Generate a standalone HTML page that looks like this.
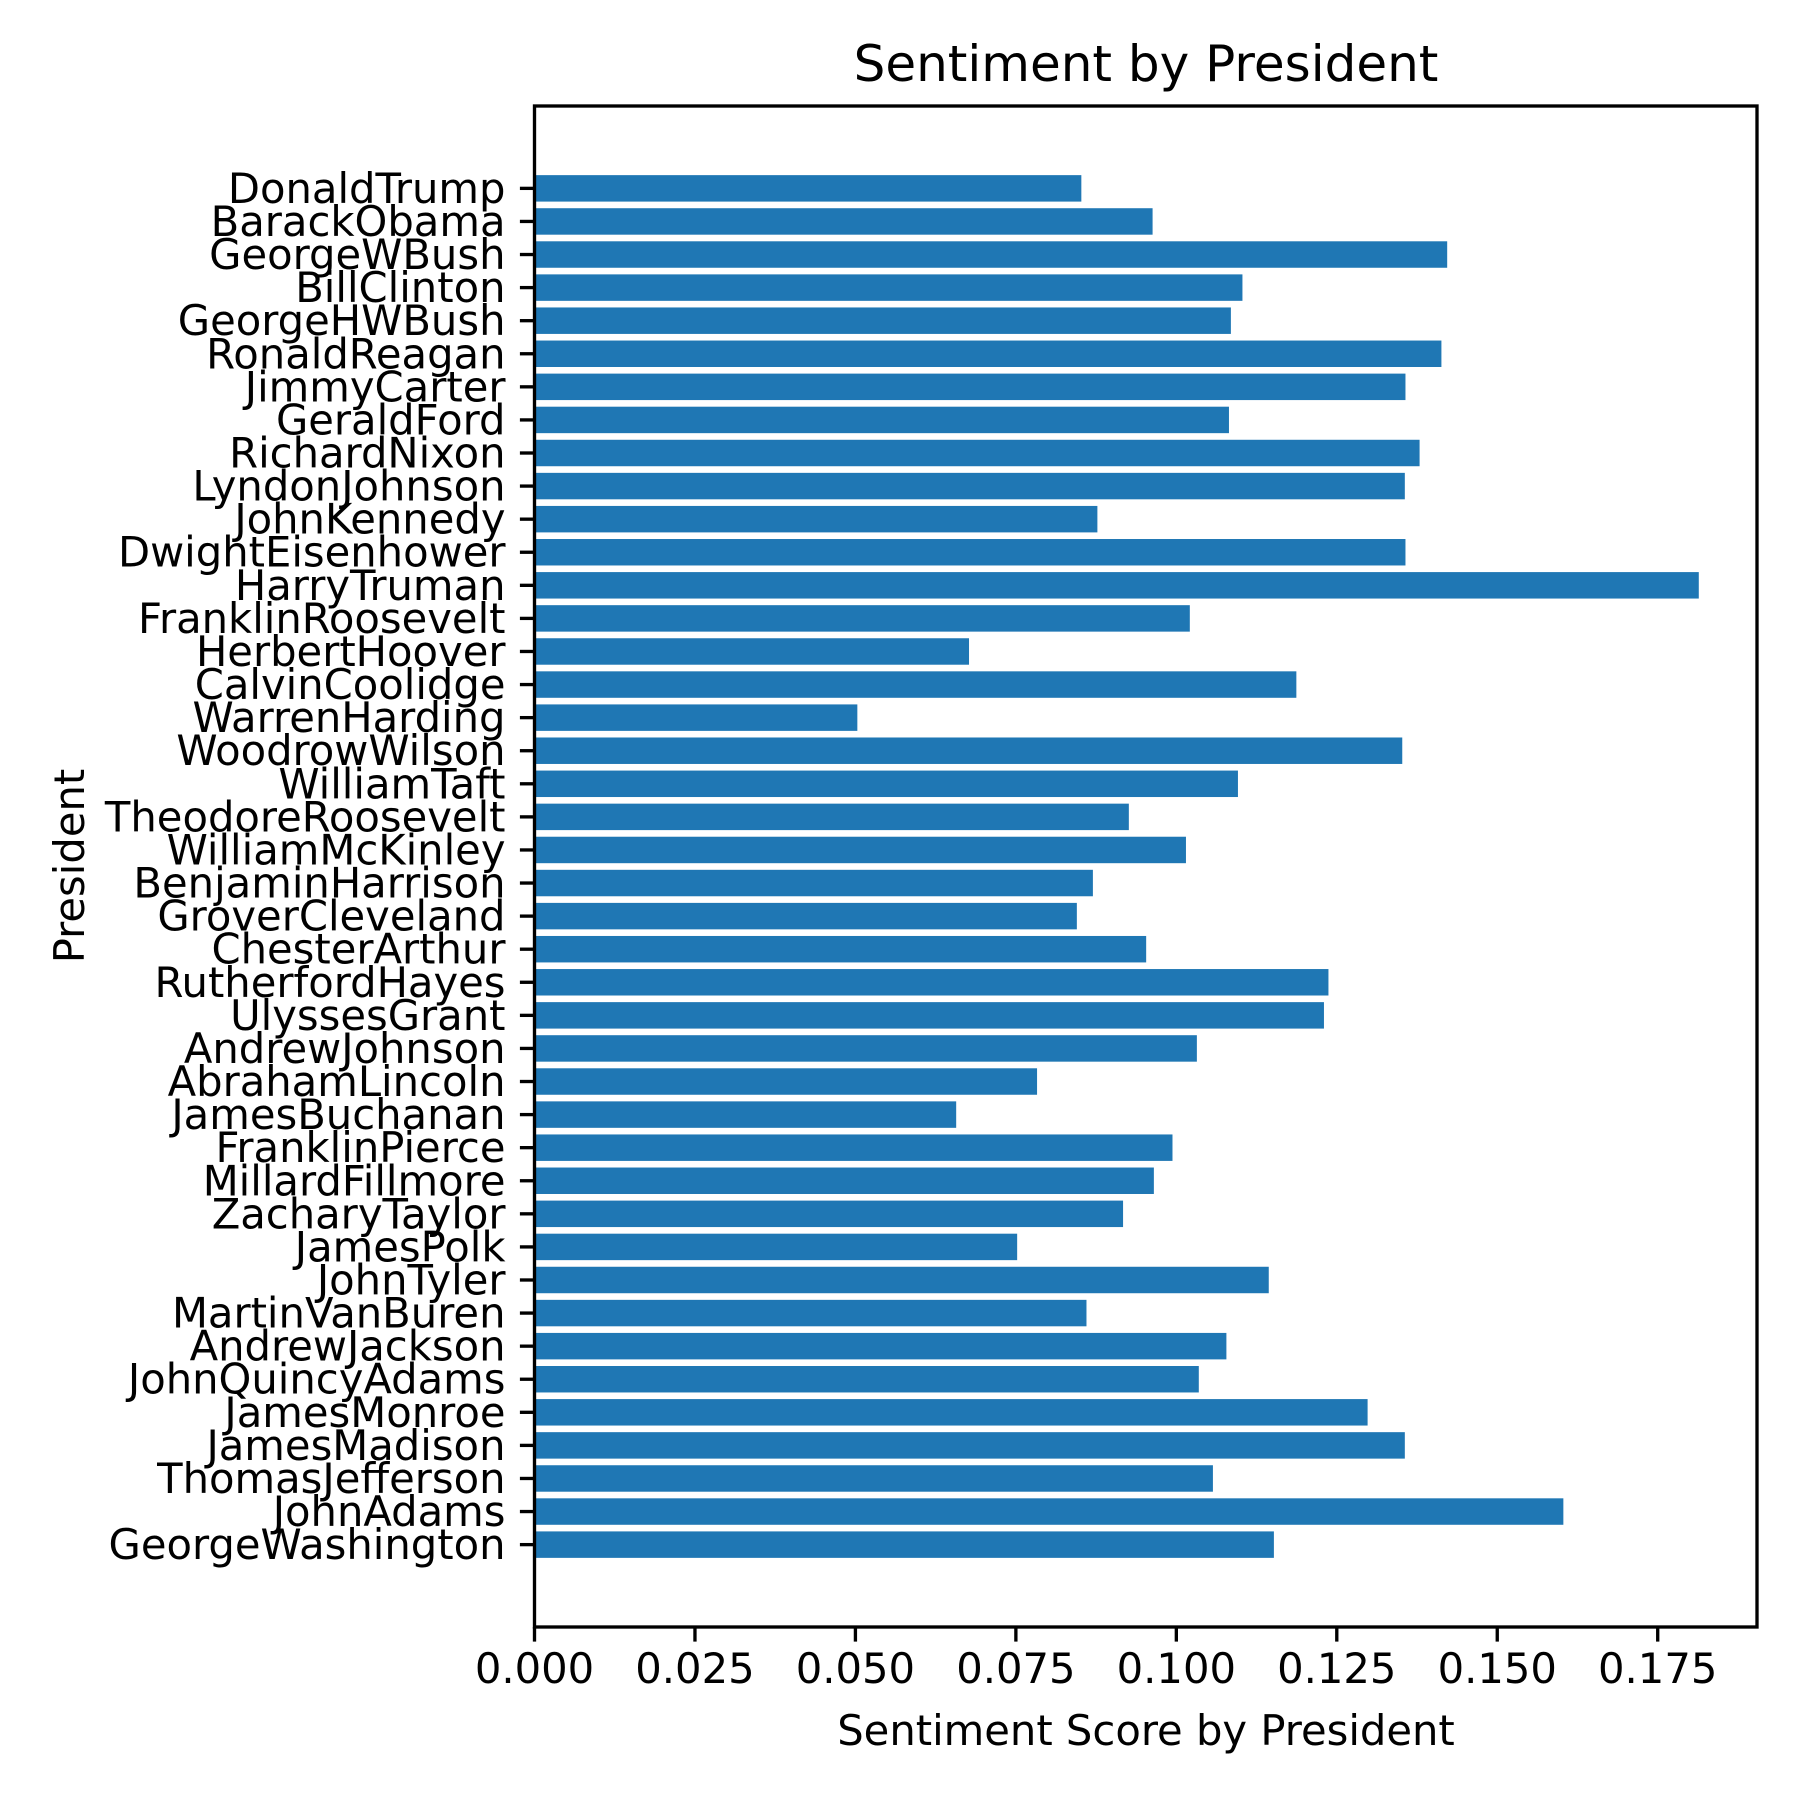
<!DOCTYPE html>
<html>
<head>
<meta charset="utf-8">
<style>
html,body{margin:0;padding:0;background:#fff;}
svg{display:block;font-family:"DejaVu Sans","Liberation Sans",sans-serif;}
</style>
</head>
<body>
<svg id="chart" width="1800" height="1800" viewBox="0 0 1800 1800" xmlns="http://www.w3.org/2000/svg">
<rect width="1800" height="1800" fill="#fff"/>
<text x="1146" y="81" font-size="50" text-anchor="middle" fill="#000">Sentiment by President</text>
<g id="bars"></g>
<g id="yticks"></g>
<g id="xticks"></g>
<rect x="534.5" y="106" width="1222.5" height="1521" fill="none" stroke="#000" stroke-width="3.33"/>
<text x="1146" y="1745" font-size="41.7" text-anchor="middle" fill="#000">Sentiment Score by President</text>
<text x="0" y="0" transform="translate(84,866) rotate(-90)" font-size="41.7" text-anchor="middle" fill="#000">President</text>
</svg>
<script>
const presidents = ["GeorgeWashington","JohnAdams","ThomasJefferson","JamesMadison","JamesMonroe","JohnQuincyAdams","AndrewJackson","MartinVanBuren","JohnTyler","JamesPolk","ZacharyTaylor","MillardFillmore","FranklinPierce","JamesBuchanan","AbrahamLincoln","AndrewJohnson","UlyssesGrant","RutherfordHayes","ChesterArthur","GroverCleveland","BenjaminHarrison","WilliamMcKinley","TheodoreRoosevelt","WilliamTaft","WoodrowWilson","WarrenHarding","CalvinCoolidge","HerbertHoover","FranklinRoosevelt","HarryTruman","DwightEisenhower","JohnKennedy","LyndonJohnson","RichardNixon","GeraldFord","JimmyCarter","RonaldReagan","GeorgeHWBush","BillClinton","GeorgeWBush","BarackObama","DonaldTrump"];
const scores = [0.1152,0.1603,0.1057,0.1356,0.1298,0.1035,0.1078,0.0860,0.1144,0.0752,0.0917,0.0965,0.0994,0.0657,0.0783,0.1032,0.1230,0.1237,0.0953,0.0845,0.0870,0.1015,0.0926,0.1096,0.1352,0.0503,0.1187,0.0677,0.1021,0.1814,0.1357,0.0877,0.1356,0.1379,0.1082,0.1357,0.1413,0.1085,0.1103,0.1422,0.0963,0.0852];
const xTicks = [0,0.025,0.05,0.075,0.1,0.125,0.15,0.175];
const xTickLabels = ["0.000","0.025","0.050","0.075","0.100","0.125","0.150","0.175"];

const NS="http://www.w3.org/2000/svg";
const L=534.5,R=1757,T=106,B=1627;
const xmax=Math.max(...scores)*1.05;
const n=presidents.length;
const ymin=-0.4-0.05*(n-1+0.8), ymax=n-1+0.4+0.05*(n-1+0.8);
const xs=v=>L+(v/xmax)*(R-L);
const ys=v=>B-(v-ymin)/(ymax-ymin)*(B-T);
const mk=(t,a)=>{const e=document.createElementNS(NS,t);for(const k in a)e.setAttribute(k,a[k]);return e;};
const bars=document.getElementById('bars'),yt=document.getElementById('yticks'),xt=document.getElementById('xticks');
presidents.forEach((p,i)=>{
  const y0=ys(i+0.4),y1=ys(i-0.4);
  const r=mk('rect',{x:xs(0),y:y0,width:xs(scores[i])-xs(0),height:y1-y0,fill:'#1f77b4'});
  
  
  bars.appendChild(r);
  const yc=ys(i);
  const tk=mk('line',{x1:L,x2:L-14.6,y1:yc,y2:yc,stroke:'#000','stroke-width':3.33});
  
  
  yt.appendChild(tk);
  const tx=mk('text',{x:L-29,y:yc,'font-size':41.7,'text-anchor':'end','dominant-baseline':'central',fill:'#000'});
  tx.textContent=p;
  
  
  yt.appendChild(tx);
});
xTicks.forEach((v,i)=>{
  const x=xs(v);
  const tk=mk('line',{x1:x,x2:x,y1:B,y2:B+14.6,stroke:'#000','stroke-width':3.33});
  
  
  xt.appendChild(tk);
  const tx=mk('text',{x:x,y:1683,'font-size':41.7,'text-anchor':'middle',fill:'#000'});
  tx.textContent=xTickLabels[i];
  
  
  xt.appendChild(tx);
});
</script>
</body>
</html>
